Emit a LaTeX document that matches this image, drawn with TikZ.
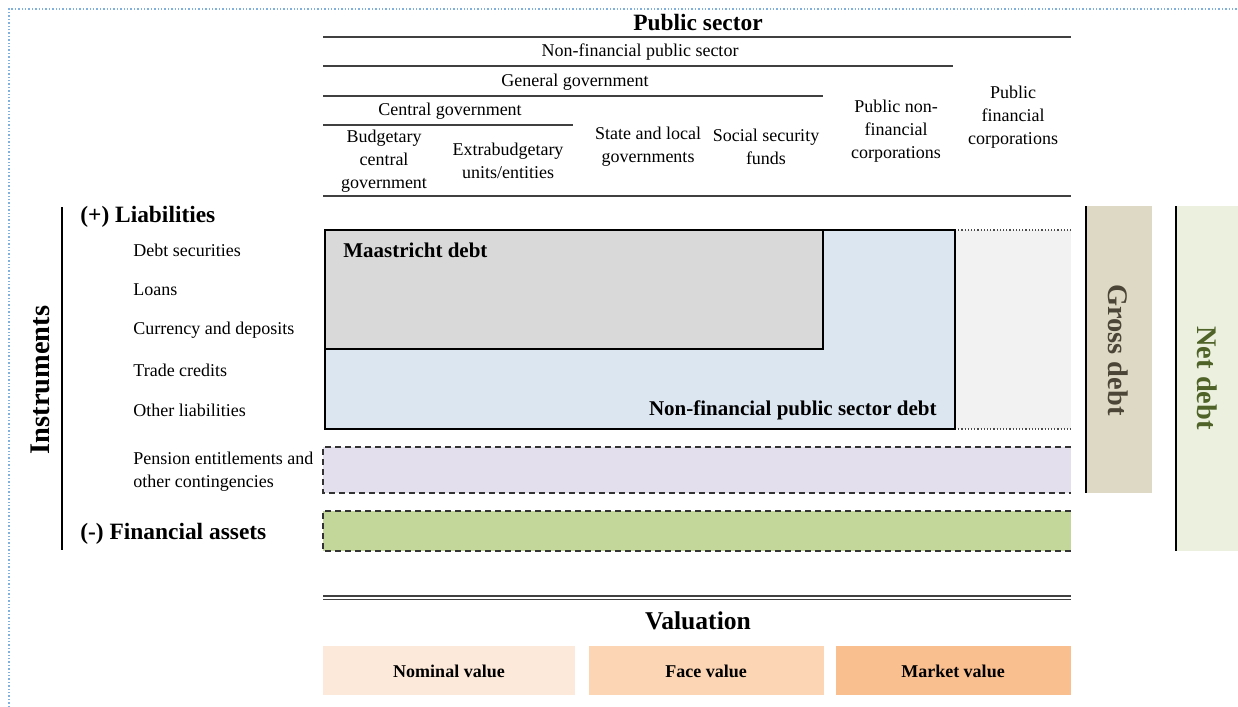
\documentclass[tikz,border=0pt]{standalone}
\usepackage{fontspec}
\setmainfont{Liberation Serif}
\definecolor{frameblue}{HTML}{7FB0DE}
\definecolor{maagray}{HTML}{D9D9D9}
\definecolor{nfpsblue}{HTML}{DCE6F1}
\definecolor{pfcgray}{HTML}{F2F2F2}
\definecolor{penslilac}{HTML}{E4DFEC}
\definecolor{assetgreen}{HTML}{C4D79B}
\definecolor{grosstan}{HTML}{DDD9C4}
\definecolor{grosstext}{HTML}{4A4536}
\definecolor{netgreen}{HTML}{EBF1DE}
\definecolor{nettext}{HTML}{4F6228}
\definecolor{nomcol}{HTML}{FDE9D9}
\definecolor{facecol}{HTML}{FCD5B4}
\definecolor{mktcol}{HTML}{FABF8F}
\begin{document}
\begin{tikzpicture}[x=0.5pt,y=-0.5pt,
  lbl/.style={font=\fontsize{9}{11.5}\selectfont, align=center, inner sep=0pt},
  item/.style={font=\fontsize{9}{11.5}\selectfont, align=left, anchor=west, inner sep=0pt},
  hdr/.style={font=\bfseries\fontsize{11.7}{14}\selectfont, inner sep=0pt},
  boxlbl/.style={font=\bfseries\fontsize{10.5}{12}\selectfont, inner sep=0pt},
  vlbl/.style={font=\bfseries\fontsize{14.2}{16}\selectfont, inner sep=0pt},
  vallbl/.style={font=\bfseries\fontsize{9}{11}\selectfont, inner sep=0pt},
  rule/.style={line width=0.8pt, black!75},
  debtbox/.style={line width=1.4pt},
  dashedge/.style={densely dashed, line width=0.6pt, black!80}]
  \useasboundingbox (0,0) rectangle (1238,707);
  \draw[frameblue, densely dotted, line width=0.7pt] (9,707) -- (9,9) -- (1238,9);

  % sector header
  \node[hdr] (ps) at (698,23) {Public sector};
  \draw[rule] (323,37) -- (1071,37);
  \node[lbl] (nfps) at (640,52) {Non-financial public sector};
  \draw[rule] (323,66) -- (953,66);
  \node[lbl] (gg) at (575,82) {General government};
  \draw[rule] (323,96) -- (823,96);
  \node[lbl] (cg) at (450,111) {Central government};
  \draw[rule] (323,125) -- (573,125);
  \node[lbl] (bcg) at (384,161) {Budgetary\\central\\government};
  \node[lbl] (ebu) at (508,161) {Extrabudgetary\\units/entities};
  \node[lbl] (slg) at (648,147) {State and local\\governments};
  \node[lbl] (ssf) at (766,147) {Social security\\funds};
  \node[lbl] (pnfc) at (896,131) {Public non-\\financial\\corporations};
  \node[lbl] (pfc) at (1013,117) {Public\\financial\\corporations};
  \draw[rule] (323,196) -- (1071,196);

  % instruments
  \draw[line width=1.2pt] (62,207) -- (62,550);
  \node[vlbl, rotate=90] (instr) at (40,380) {Instruments};
  \node[hdr, anchor=west] (liab) at (80,217) {(+) Liabilities};
  \node[item] (ds) at (133,250) {Debt securities};
  \node[item] (loans) at (133,290) {Loans};
  \node[item] (cd) at (133,330) {Currency and deposits};
  \node[item] (tc) at (133,370) {Trade credits};
  \node[item] (ol) at (133,410) {Other liabilities};
  \node[item] (pens) at (133,472) {Pension entitlements and\\other contingencies};
  \node[hdr, anchor=west] (fa) at (80,534) {(-) Financial assets};

  % debt areas
  \fill[pfcgray] (955,230) rectangle (1071,429);
  \draw[densely dotted, black!70, line width=0.6pt] (955,230) -- (1071,230);
  \draw[densely dotted, black!70, line width=0.6pt] (955,429) -- (1071,429);
  \draw[debtbox, fill=nfpsblue] (325,230) rectangle (955,429);
  \draw[debtbox, fill=maagray] (325,230) rectangle (823,349);
  \node[boxlbl, anchor=west] (maa) at (343,250) {Maastricht debt};
  \node[boxlbl, anchor=east] (nfpsd) at (937,410) {Non-financial public sector debt};
  \fill[penslilac] (323,447) rectangle (1071,493);
  \draw[dashedge] (1071,447) -- (323,447) -- (323,493) -- (1071,493);
  \fill[assetgreen] (323,511) rectangle (1071,551);
  \draw[dashedge] (1071,511) -- (323,511) -- (323,551) -- (1071,551);

  % gross and net debt
  \fill[grosstan] (1085,206) rectangle (1152,493);
  \draw[line width=1.4pt] (1086,206) -- (1086,493);
  \node[vlbl, rotate=-90, text=grosstext] (gross) at (1118,350) {Gross debt};
  \fill[netgreen] (1175,206) rectangle (1238,551);
  \draw[line width=1.4pt] (1176,206) -- (1176,551);
  \node[vlbl, rotate=-90, text=nettext] (net) at (1207,378) {Net debt};

  % valuation
  \draw[rule] (323,596) -- (1071,596);
  \draw[rule] (323,599.5) -- (1071,599.5);
  \node[font=\bfseries\fontsize{12.8}{15}\selectfont, inner sep=0pt] (val) at (698,621) {Valuation};
  \fill[nomcol] (323,646) rectangle (575,695);
  \fill[facecol] (589,646) rectangle (824,695);
  \fill[mktcol] (836,646) rectangle (1071,695);
  \node[vallbl] (nom) at (449,671) {Nominal value};
  \node[vallbl] (face) at (706,671) {Face value};
  \node[vallbl] (mkt) at (953,671) {Market value};
\end{tikzpicture}
\end{document}
